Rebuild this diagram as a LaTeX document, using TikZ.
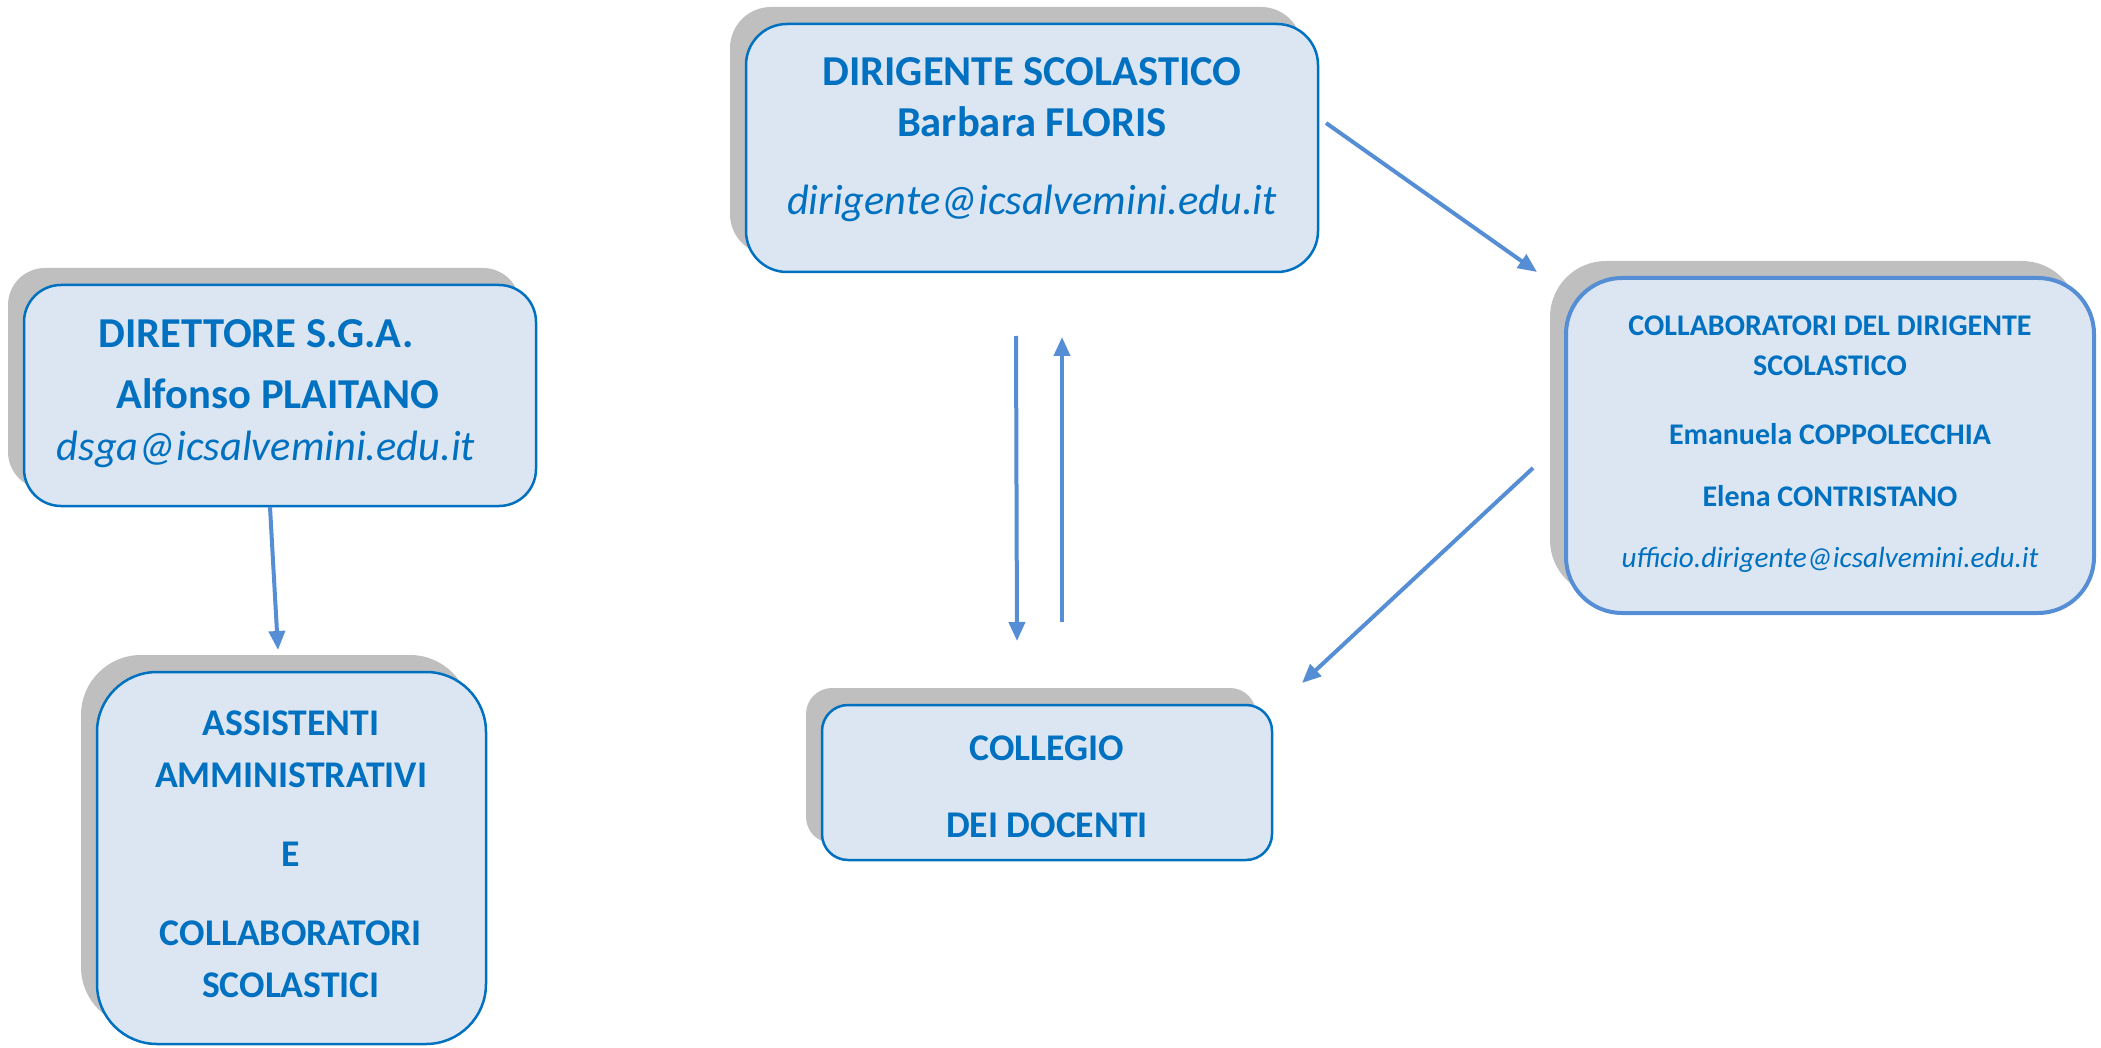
\documentclass[tikz,border=0pt]{standalone}
\usepackage{fontspec}
\setmainfont{Carlito}
\usetikzlibrary{shadows,arrows.meta}
\definecolor{tblue}{HTML}{0070C0}
\definecolor{fillb}{HTML}{DCE6F2}
\definecolor{arr}{HTML}{558ED5}
\definecolor{shd}{HTML}{BFBFBF}
\tikzset{
  box/.style={draw=tblue, line width=2.5pt, fill=fillb, rounded corners=#1,
    general shadow={fill=shd, shadow xshift=-16pt, shadow yshift=17pt},
    inner sep=0pt, outer sep=0pt},
  lbl/.style={text=tblue, anchor=base, inner sep=0pt},
  big/.style={lbl, font=\fontsize{42.6}{50}\selectfont\bfseries},
  bigit/.style={lbl, font=\fontsize{42.4}{50}\selectfont\itshape},
  mid/.style={lbl, font=\fontsize{37.7}{44}\selectfont\bfseries},
  sml/.style={lbl, font=\fontsize{30}{36}\selectfont\bfseries},
  smlit/.style={lbl, font=\fontsize{29.2}{36}\selectfont\itshape},
  conn/.style={draw=arr, line width=4pt, -{Triangle[length=19pt,width=16pt]}}
}
\begin{document}
\begin{tikzpicture}[x=1pt,y=-1pt]
\useasboundingbox (0,0) rectangle (2101,1048);
% boxes
\node[box=41pt, minimum width=572pt, minimum height=248pt] (dir) at (1032,148) {};
\node[box=37pt, minimum width=512pt, minimum height=221pt] (dsga) at (280,395.5) {};
\node[box=60pt, minimum width=389pt, minimum height=372pt] (ass) at (291.5,858) {};
\node[box=26pt, minimum width=450pt, minimum height=155pt] (col) at (1047,782.5) {};
\node[box=56pt, draw=arr, line width=4pt, minimum width=528pt, minimum height=335pt] (cdir) at (1830,445.5) {};
% texts: dirigente
\node[big] (dir1) at (1032,85.7) {DIRIGENTE SCOLASTICO};
\node[big] (dir2) at (1032,137) {Barbara FLORIS};
\node[bigit] (dir3) at (1032,215) {dirigente@icsalvemini.edu.it};
% direttore
\node[big] (dsga1) at (256,348) {DIRETTORE S.G.A.};
\node[big] (dsga2) at (278,408) {Alfonso PLAITANO};
\node[bigit] (dsga3) at (266,460) {dsga@icsalvemini.edu.it};
% collaboratori del dirigente
\node[sml] (cd1) at (1830,335.7) {COLLABORATORI DEL DIRIGENTE};
\node[sml] (cd2) at (1830,376) {SCOLASTICO};
\node[sml] (cd3) at (1830,444) {Emanuela COPPOLECCHIA};
\node[sml] (cd4) at (1830,506.7) {Elena CONTRISTANO};
\node[smlit] (cd5) at (1830,567.7) {ufficio.dirigente@icsalvemini.edu.it};
% assistenti
\node[mid] (as1) at (291,735) {ASSISTENTI};
\node[mid] (as2) at (291,787.7) {AMMINISTRATIVI};
\node[mid] (as3) at (291,866.7) {E};
\node[mid] (as4) at (291,945) {COLLABORATORI};
\node[mid] (as5) at (291,997) {SCOLASTICI};
% collegio
\node[mid] (co1) at (1047,760) {COLLEGIO};
\node[mid] (co2) at (1047,837) {DEI DOCENTI};
% connector end points
\coordinate (a1s) at (1326,123);
\coordinate (a1e) at (1537,272);
\coordinate (a2s) at (1533,468);
\coordinate (a2e) at (1302,683);
\coordinate (a3s) at (1016,336);
\coordinate (a3e) at (1017,641);
\coordinate (a4s) at (1062,622);
\coordinate (a4e) at (1062,337);
\coordinate (a5s) at (270,507);
\coordinate (a5e) at (278,650);
\draw[conn] (a1s) -- (a1e);
\draw[conn] (a2s) -- (a2e);
\draw[conn] (a3s) -- (a3e);
\draw[conn] (a4s) -- (a4e);
\draw[conn] (a5s) -- (a5e);
\end{tikzpicture}
\end{document}
